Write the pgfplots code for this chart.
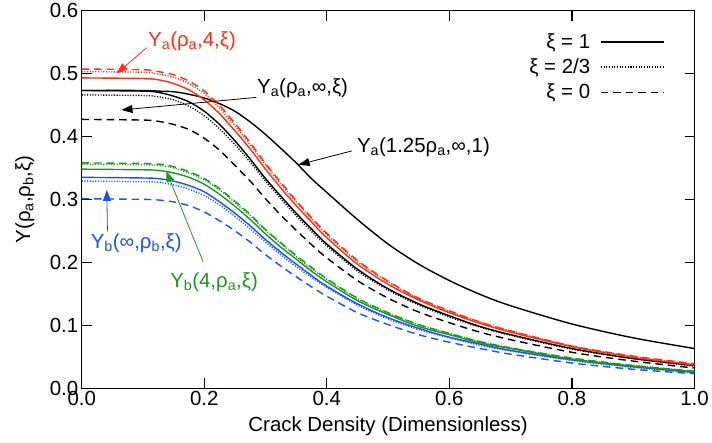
\documentclass[border=0pt]{standalone}
\usepackage{fontspec}
\setmainfont{Liberation Sans}
\usepackage{pgfplots}
\usepackage{pgfplotstable}
\pgfplotsset{compat=1.18}
\usetikzlibrary{arrows.meta}

\definecolor{cRed}{RGB}{255,45,20}
\definecolor{cGreen}{RGB}{30,150,30}
\definecolor{cBlue}{RGB}{25,80,255}
\newcommand\fs{\fontsize{20.5}{24}\selectfont}

% columns: r = Y_a(rho_a,4,xi), k = Y_a(rho_a,inf,xi), g = Y_b(4,rho_a,xi),
% b = Y_b(inf,rho_b,xi); suffix 1 / 2 / 0 for xi = 1, 2/3, 0; kk = Y_a(1.25rho_a,inf,1)
\pgfplotstableread{
x     r1    r2    r0    k1    k2    k0    g1    g2    g0    b1    b2    b0    kk
0     0.493 0.503 0.507 0.473 0.466 0.427 0.348 0.356 0.358 0.335 0.329 0.301 0.473
0.1   0.492 0.502 0.506 0.472 0.465 0.426 0.347 0.355 0.357 0.334 0.328 0.300 0.473
0.125 0.490 0.499 0.503 0.470 0.463 0.424 0.346 0.354 0.356 0.333 0.327 0.299 0.472
0.15  0.484 0.494 0.498 0.464 0.458 0.419 0.342 0.350 0.352 0.329 0.323 0.296 0.471
0.175 0.474 0.484 0.488 0.455 0.448 0.411 0.335 0.342 0.344 0.322 0.316 0.290 0.467
0.2   0.458 0.468 0.472 0.440 0.433 0.397 0.324 0.331 0.333 0.312 0.306 0.280 0.461
0.225 0.436 0.445 0.449 0.419 0.412 0.378 0.308 0.315 0.317 0.296 0.291 0.266 0.452
0.25  0.409 0.417 0.421 0.393 0.387 0.354 0.289 0.295 0.297 0.278 0.273 0.250 0.440
0.275 0.380 0.387 0.390 0.364 0.359 0.329 0.268 0.274 0.276 0.258 0.253 0.232 0.423
0.3   0.348 0.355 0.357 0.333 0.329 0.301 0.245 0.251 0.252 0.236 0.232 0.212 0.403
0.325 0.318 0.324 0.327 0.305 0.301 0.275 0.224 0.230 0.231 0.216 0.212 0.194 0.381
0.35  0.290 0.296 0.298 0.278 0.274 0.251 0.205 0.209 0.211 0.197 0.193 0.177 0.358
0.375 0.264 0.269 0.271 0.253 0.249 0.228 0.186 0.190 0.192 0.179 0.176 0.161 0.333
0.4   0.239 0.244 0.246 0.229 0.226 0.207 0.169 0.173 0.174 0.162 0.160 0.146 0.311
0.45  0.197 0.201 0.203 0.189 0.186 0.171 0.139 0.142 0.143 0.134 0.132 0.120 0.268
0.5   0.165 0.169 0.170 0.158 0.156 0.143 0.117 0.119 0.120 0.112 0.110 0.101 0.229
0.55  0.140 0.142 0.143 0.134 0.132 0.121 0.098 0.101 0.101 0.095 0.093 0.085 0.197
0.6   0.120 0.122 0.123 0.115 0.113 0.104 0.085 0.087 0.087 0.081 0.080 0.073 0.171
0.65  0.103 0.105 0.105 0.098 0.097 0.089 0.072 0.074 0.074 0.070 0.068 0.063 0.149
0.7   0.089 0.091 0.091 0.085 0.084 0.077 0.063 0.064 0.064 0.060 0.059 0.054 0.131
0.8   0.066 0.067 0.067 0.063 0.062 0.057 0.046 0.047 0.048 0.045 0.044 0.040 0.102
0.9   0.049 0.050 0.051 0.047 0.047 0.043 0.035 0.036 0.036 0.034 0.033 0.030 0.080
1.0   0.037 0.038 0.039 0.036 0.035 0.032 0.026 0.027 0.027 0.025 0.025 0.023 0.063
}\curves

\tikzset{
  xi1/.style={solid, line width=1.4pt},
  xi2/.style={line width=1.4pt, dash pattern=on 1.1pt off 1.6pt},
  xi0/.style={line width=1.4pt, dash pattern=on 7.5pt off 5pt},
  arr/.style={line width=0.8pt, -{Triangle[length=11pt,width=8pt]}},
  note/.style={font=\fs, inner sep=0pt},
}

\begin{document}
\begin{tikzpicture}
\begin{axis}[
  scale only axis,
  width=615pt, height=379pt,
  xmin=0, xmax=1, ymin=0, ymax=0.6,
  xtick={0,0.2,...,1.0}, ytick={0,0.1,...,0.6},
  tick align=inside, major tick length=10pt,
  tick style={line width=1.3pt, black},
  axis line style={line width=1.3pt},
  xticklabel style={/pgf/number format/.cd, fixed, fixed zerofill, precision=1},
  yticklabel style={/pgf/number format/.cd, fixed, fixed zerofill, precision=1},
  /pgf/number format/assume math mode=true,
  tick label style={font=\fs},
  label style={font=\fs},
  xlabel={Crack Density (Dimensionless)},
  ylabel={Y(ρ\textsubscript{a},ρ\textsubscript{b},ξ)},
  xlabel style={at={(axis description cs:0.5,-0.102)}, anchor=center},
  ylabel style={at={(axis description cs:-0.0927,0.5)}, anchor=center},
  every axis plot/.append style={smooth, tension=0.5, no marks},
  legend style={font=\fs, draw=none, fill=none, inner sep=3pt,
    at={(0.956,0.9525)}, anchor=north east,
    row sep=5pt, nodes={inner sep=2pt}},
  legend cell align=right,
  legend plot pos=right,
  legend image code/.code={\draw[#1] (0pt,0pt) -- (63pt,0pt);},
  /tikz/every odd column/.append style={column sep=8pt},
]
\addlegendimage{black, xi1}
\addlegendentry{ξ = 1}
\addlegendimage{black, xi2}
\addlegendentry{ξ = 2/3}
\addlegendimage{black, xi0}
\addlegendentry{ξ = 0}

\addplot[cBlue, xi1, forget plot] table[x=x, y=b1] {\curves};
\addplot[cBlue, xi2, forget plot] table[x=x, y=b2] {\curves};
\addplot[cBlue, xi0, forget plot] table[x=x, y=b0] {\curves};
\addplot[cGreen, xi1, forget plot] table[x=x, y=g1] {\curves};
\addplot[cGreen, xi2, forget plot] table[x=x, y=g2] {\curves};
\addplot[cGreen, xi0, forget plot] table[x=x, y=g0] {\curves};
\addplot[black, xi1, forget plot] table[x=x, y=k1] {\curves};
\addplot[black, xi2, forget plot] table[x=x, y=k2] {\curves};
\addplot[black, xi0, forget plot] table[x=x, y=k0] {\curves};
\addplot[black, xi1, forget plot] table[x=x, y=kk] {\curves};
\addplot[cRed, xi1, forget plot] table[x=x, y=r1] {\curves};
\addplot[cRed, xi2, forget plot] table[x=x, y=r2] {\curves};
\addplot[cRed, xi0, forget plot] table[x=x, y=r0] {\curves};

\node[cRed, note] at (axis cs:0.180,0.552) {Y\textsubscript{a}(ρ\textsubscript{a},4,ξ)};
\draw[cRed, arr] (axis cs:0.106,0.541) -- (axis cs:0.057,0.500);

\node[black, note, anchor=west] at (axis cs:0.286,0.476) {Y\textsubscript{a}(ρ\textsubscript{a},∞,ξ)};
\draw[black, arr] (axis cs:0.285,0.462) -- (axis cs:0.065,0.442);

\node[black, note, anchor=west] at (axis cs:0.449,0.383) {Y\textsubscript{a}(1.25ρ\textsubscript{a},∞,1)};
\draw[black, arr] (axis cs:0.441,0.377) -- (axis cs:0.354,0.355);

\node[cBlue, note] at (axis cs:0.089,0.230) {Y\textsubscript{b}(∞,ρ\textsubscript{b},ξ)};
\draw[cBlue, arr] (axis cs:0.042,0.249) -- (axis cs:0.041,0.315);

\node[cGreen, note] at (axis cs:0.216,0.168) {Y\textsubscript{b}(4,ρ\textsubscript{a},ξ)};
\draw[cGreen, arr] (axis cs:0.198,0.201) -- (axis cs:0.138,0.345);
\end{axis}
\path ([shift={(-82pt,-55pt)}]current axis.south west) rectangle ([shift={(15pt,10pt)}]current axis.north east);
\end{tikzpicture}
\end{document}
